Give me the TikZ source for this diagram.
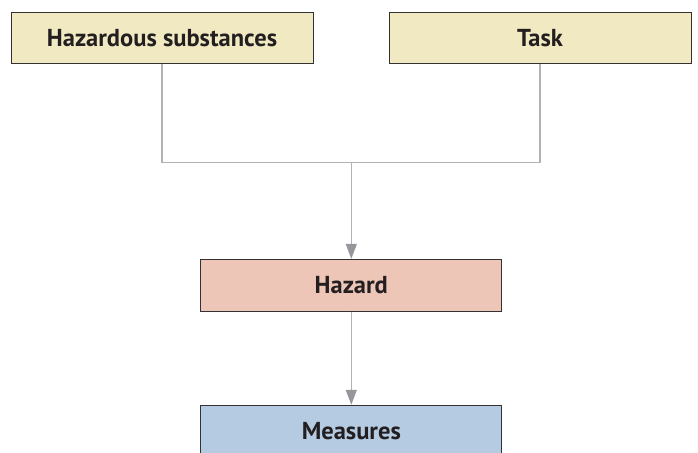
\documentclass[tikz,border=0pt]{standalone}
\usepackage{fontspec}
\setmainfont{PT Sans}
\usetikzlibrary{arrows.meta}
\definecolor{boxyellow}{RGB}{241,233,193}
\definecolor{boxpink}{RGB}{237,198,184}
\definecolor{boxblue}{RGB}{180,203,226}
\definecolor{boxline}{RGB}{50,50,50}
\definecolor{conn}{RGB}{178,178,180}
\definecolor{tipc}{RGB}{150,150,156}
\definecolor{txt}{RGB}{35,31,32}
\tikzset{
  box/.style={draw=boxline, line width=0.9pt, minimum height=51pt, inner sep=0pt,
    text=txt, font=\bfseries\fontsize{24.5}{28}\selectfont},
  conline/.style={draw=conn, line width=1.3pt},
  conarrow/.style={conline, -{Triangle[length=15pt,width=11pt,color=tipc]}},
}
\begin{document}
\begin{tikzpicture}[x=1pt,y=-1pt]
\useasboundingbox (0,0) rectangle (698,452);
\clip (0,0) rectangle (698,452);
\node[box, fill=boxyellow, minimum width=302pt] (hs) at (162,37.8) {Hazardous substances};
\node[box, fill=boxyellow, minimum width=302pt] (task) at (540,37.8) {Task};
\node[box, fill=boxpink, minimum width=301pt, minimum height=52pt] (hazard) at (351.3,285.3) {Hazard};
\node[box, fill=boxblue, minimum width=301pt, minimum height=52pt] (measures) at (351.3,431.2) {Measures};
\coordinate (j) at (351.3,162.7);
\draw[conline] (hs.south) |- (j) -| (task.south);
\draw[conarrow] (j) -- (hazard.north);
\draw[conarrow] (hazard.south) -- (measures.north);
\end{tikzpicture}
\end{document}
